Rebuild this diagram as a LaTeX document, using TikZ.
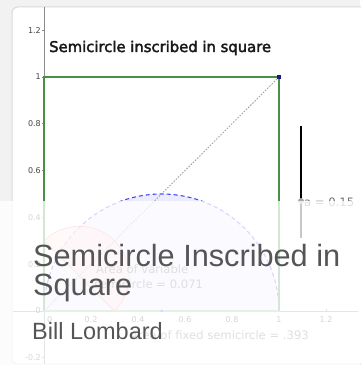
\documentclass[tikz,border=0pt]{standalone}
\usepackage{fontspec}
\setmainfont{DejaVu Sans}
\newfontfamily\titlefont[FakeBold=2.5]{DejaVu Sans}
\newfontfamily\bigfont{Liberation Sans}
\definecolor{panelgray}{HTML}{F2F2F2}
\definecolor{panelline}{HTML}{DADADA}
\definecolor{axisgray}{HTML}{8C8C8C}
\definecolor{ticktext}{HTML}{444444}
\definecolor{sqgreen}{RGB}{70,145,70}
\definecolor{semiblue}{RGB}{70,70,255}
\definecolor{semifill}{RGB}{236,236,255}
\definecolor{redfill}{RGB}{255,215,215}
\definecolor{redline}{RGB}{255,150,150}
\definecolor{diaggray}{HTML}{A0A0A0}
\definecolor{ptblue}{RGB}{25,25,130}
\definecolor{overtext}{HTML}{555555}
\definecolor{labgray}{HTML}{707070}
\begin{document}
\begin{tikzpicture}[x=1pt,y=1pt,
  ticklab/.style={font=\fontsize{8}{8}\selectfont, text=ticktext, inner sep=0pt},
  lab/.style={font=\fontsize{11.6}{12}\selectfont, text=labgray, inner sep=0pt},
  bigtext/.style={font=\bigfont\fontsize{30.7}{31}\selectfont, text=overtext, inner sep=0pt},
  subtext/.style={font=\bigfont\fontsize{23.5}{24}\selectfont, text=overtext, inner sep=0pt},
  dot/.style={fill=ptblue, minimum size=4pt, inner sep=0pt}]
\useasboundingbox (0,0) rectangle (360,365);
\fill[panelgray] (0,0) rectangle (360,365);
\draw[panelline, fill=white, line width=1pt, rounded corners=6pt] (12,1) rectangle (400,358);
% axes
\draw[axisgray, line width=0.8pt] (44,1) -- (44,357.5);
\draw[axisgray, line width=0.8pt] (12.5,54) -- (358,54);
\foreach \v/\t in {1.2/1.2,1/1,0.8/0.8,0.6/0.6,0.4/0.4,0.2/0.2,-0.2/-0.2}{
  \draw[axisgray, line width=0.6pt] (42,{54+234*\v}) -- (44,{54+234*\v});
  \node[ticklab, anchor=east] (yl\t) at (41,{54+234*\v}) {\t};
}
\node[ticklab, anchor=east] (yl0) at (41,54) {0};
\foreach \u/\t in {0.2/0.2,0.4/0.4,0.6/0.6,0.8/0.8,1/1,1.2/1.2}{
  \draw[axisgray, line width=0.6pt] ({44+235*\u},54) -- ({44+235*\u},56);
  \node[ticklab] (xl\t) at ({44+235*\u},45) {\t};
}
\node[ticklab, anchor=west] (xl0) at (47,45) {0};
% graph in data coordinates
\begin{scope}[shift={(44,54)}, x=235pt, y=234pt]
  \coordinate (O) at (0,0);
  \coordinate (A) at (1,0);
  \coordinate (B) at (1,1);
  \coordinate (C) at (0,1);
  \coordinate (M) at (0.5,0);
  \coordinate (P) at (0.3,0);
  \fill[semifill] (A) arc[start angle=0, end angle=180, x radius=0.5, y radius=0.5] -- cycle;
  \draw[semiblue, line width=1.1pt, dash pattern=on 4pt off 3pt] (A) arc[start angle=0, end angle=180, x radius=0.5, y radius=0.5];
  \draw[redline, fill=redfill, fill opacity=0.6, line width=0.8pt] (P) arc[start angle=-45, end angle=135, x radius=0.2121, y radius=0.2121] -- cycle;
  \draw[diaggray, line width=0.9pt, dash pattern=on 1.5pt off 1.5pt] (B) -- (O);
  \draw[sqgreen, line width=1.5pt] (O) -- (C) -- (B) -- (A);
  \draw[sqgreen!60, line width=1.2pt] (A) -- (O);
  \node[dot, shape=rectangle, minimum size=4pt] (pB) at (B) {};
  \node[dot, shape=circle, minimum size=3pt, fill=semiblue] (pM) at (M) {};
  \node[dot, shape=circle, minimum size=3pt, fill=redline] (pP) at (P) {};
\end{scope}
% title
\node[font=\titlefont\fontsize{14.8}{15}\selectfont, text=black!90, anchor=base west, inner sep=0pt] (title) at (49,313) {Semicircle inscribed in square};
% slider
\coordinate (s1) at (301,239);
\coordinate (s2) at (301,127);
\draw[black, line width=1.4pt] (s1) -- (s2);
\node[circle, fill=gray!70, minimum size=6pt, inner sep=0pt] (sp) at (301,164) {};
\node[lab, anchor=west] (alab) at (304,163) {a = 0.15};
% area labels
\node[lab, anchor=base west] (av1) at (96,91) {Area of variable};
\node[lab, anchor=base west] (av2) at (94,77) {semicircle = 0.071};
\node[lab, anchor=base east] (af) at (309,25) {Area of fixed semicircle = .393};
% overlay
\fill[white, opacity=0.78] (0,0) rectangle (360,164);
\node[bigtext, anchor=base west] (t1) at (33,99) {Semicircle Inscribed in};
\node[bigtext, anchor=base west] (t2) at (33,70) {Square};
\node[subtext, anchor=base west] (t3) at (32,25) {Bill Lombard};
\end{tikzpicture}
\end{document}
